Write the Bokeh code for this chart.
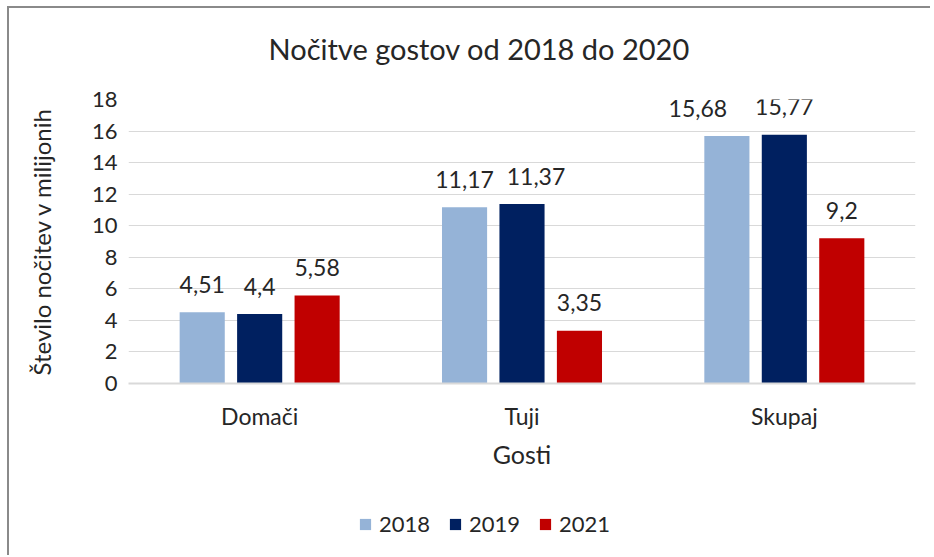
from bokeh.plotting import figure
from bokeh.models import ColumnDataSource, FactorRange, FixedTicker, Legend, LegendItem, Title, Spacer
from bokeh.layouts import column, row
from bokeh.transform import dodge
from bokeh.core.properties import value
from bokeh.embed import file_html
from bokeh.resources import INLINE

categories = ["Domači", "Tuji", "Skupaj"]
years = ["2018", "2019", "2021"]
v2018 = [4.51, 11.17, 15.68]
v2019 = [4.4, 11.37, 15.77]
v2021 = [5.58, 3.35, 9.2]
y_ticks = [0, 2, 4, 6, 8, 10, 12, 14, 16, 18]
colors = ["#95B3D7", "#002060", "#C00000"]

FONT = "Lato"
TXT = "#262626"
BORDER = "2px solid #8a8a8a"

# manual nudges of data labels (px), as in the original chart
label_nudge = {("2019", "Tuji"): 14, ("2018", "Skupaj"): -29}

def fmt(v):
    return ("%g" % v).replace(".", ",")

p = figure(x_range=FactorRange(*categories), y_range=(0, 18),
           width=923, height=495, output_backend="svg", toolbar_location=None,
           min_border_left=119, min_border_right=17, min_border_top=91, min_border_bottom=120)
p.outline_line_color = None
p.background_fill_color = "white"
p.border_fill_color = "white"
p.styles = {"border-left": BORDER, "border-top": BORDER}

spacer_title = Title(text="\u00a0", text_font=FONT, text_font_size="2px",
                     text_color="white", standoff=30)
p.add_layout(spacer_title, "above")
t = Title(text="Nočitve gostov od 2018 do 2020", text_font=FONT, text_font_size="29px",
          text_font_style="normal", text_color=TXT, align="left", offset=140, standoff=0)
p.add_layout(t, "above")

offsets = [-0.219, 0.0, 0.219]
series = [v2018, v2019, v2021]
for yr, vals, off, col in zip(years, series, offsets, colors):
    src = ColumnDataSource(dict(x=categories, y=vals, lab=[fmt(v) for v in vals],
                                dx=[label_nudge.get((yr, c), 0) for c in categories]))
    p.vbar(x=dodge("x", off, range=p.x_range), top="y", width=0.172, source=src,
           fill_color=col, line_color=None)
    p.text(x=dodge("x", off, range=p.x_range), y="y", text="lab", source=src,
           x_offset="dx", text_align="center", text_baseline="alphabetic", y_offset=-28,
           text_font=value(FONT), text_font_size="23px", text_color=TXT)

p.yaxis.ticker = FixedTicker(ticks=y_ticks)
p.yaxis.axis_line_color = None
p.yaxis.major_tick_line_color = None
p.yaxis.minor_tick_line_color = None
p.yaxis.major_label_standoff = 5
p.yaxis.major_label_text_font = FONT
p.yaxis.major_label_text_font_size = "22px"
p.yaxis.major_label_text_color = TXT
p.yaxis.axis_label = "Število nočitev v milijonih"
p.yaxis.axis_label_text_font = FONT
p.yaxis.axis_label_text_font_size = "24px"
p.yaxis.axis_label_text_font_style = "normal"
p.yaxis.axis_label_text_color = TXT
p.yaxis.axis_label_standoff = 33

p.xaxis.axis_line_color = "#D9D9D9"
p.xaxis.axis_line_width = 2
p.xaxis.major_tick_line_color = None
p.xaxis.minor_tick_line_color = None
p.xaxis.major_label_standoff = 12
p.xaxis.major_label_text_font = FONT
p.xaxis.major_label_text_font_size = "23px"
p.xaxis.major_label_text_color = TXT
p.xaxis.axis_label = "Gosti"
p.xaxis.axis_label_text_font = FONT
p.xaxis.axis_label_text_font_size = "25px"
p.xaxis.axis_label_text_font_style = "normal"
p.xaxis.axis_label_text_color = TXT
p.xaxis.axis_label_standoff = 6

p.xgrid.grid_line_color = None
p.ygrid.grid_line_color = "#D9D9D9"
p.ygrid.grid_line_width = 1

# legend strip
lg = figure(width=923, height=54, output_backend="svg", toolbar_location=None,
            x_axis_location=None, y_axis_location=None, x_range=(0, 1), y_range=(0, 1),
            min_border_left=0, min_border_right=0, min_border_top=0, min_border_bottom=0)
lg.outline_line_color = None
lg.grid.grid_line_color = None
lg.background_fill_color = "white"
lg.border_fill_color = "white"
lg.styles = {"border-left": BORDER}
items = []
for yr, col in zip(years, colors):
    r = lg.rect(x=[-5], y=[-5], width=0.1, height=0.1, fill_color=col, line_color=None)
    items.append(LegendItem(label=yr, renderers=[r]))
legend = Legend(items=items, orientation="horizontal", location=(230, 18),
                glyph_width=14, glyph_height=14, label_standoff=7, spacing=18,
                padding=0, margin=0, border_line_color=None, background_fill_alpha=0,
                label_text_font=FONT, label_text_font_size="22px", label_text_color=TXT)
lg.add_layout(legend, "center")

layout = column(Spacer(height=6, width=10),
                row(Spacer(width=7, height=10), column(p, lg, spacing=0)),
                spacing=0)
open("out.html", "w").write(file_html(layout, INLINE))
